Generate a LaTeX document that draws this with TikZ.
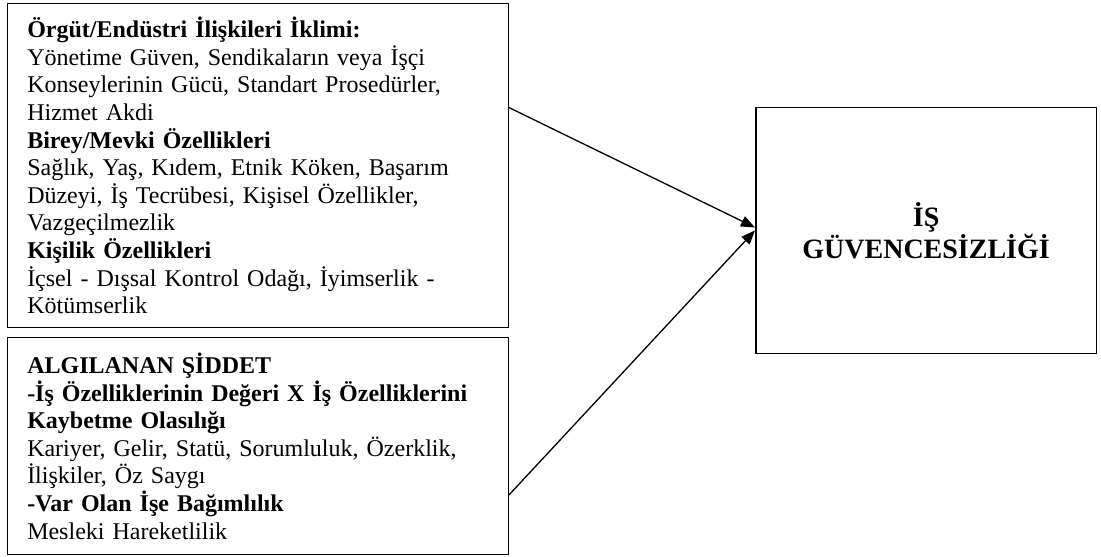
\documentclass[tikz,border=0pt]{standalone}
\usepackage{fontspec}
\setmainfont{Liberation Serif}
\usepackage{tikz}
\usetikzlibrary{arrows.meta,positioning}

\begin{document}
\begin{tikzpicture}[
    x=1pt, y=1pt,
    box/.style={draw, line width=1.5pt, inner xsep=20pt, inner ysep=0pt, align=left, anchor=north west,
        font=\fontsize{24pt}{27.6pt}\selectfont},
    arrow/.style={-{Triangle[length=14pt,width=11pt]}, line width=1.3pt}
]
\useasboundingbox (0,0) rectangle (1101,557);
\node[box, minimum width=501pt, minimum height=323.7pt, text width=461pt] (iklim) at (6.5,554)
  {\textbf{Örgüt/Endüstri İlişkileri İklimi:}\\
   Yönetime Güven, Sendikaların veya İşçi\\
   Konseylerinin Gücü, Standart Prosedürler,\\
   Hizmet Akdi\\
   \textbf{Birey/Mevki Özellikleri}\\
   Sağlık, Yaş, Kıdem, Etnik Köken, Başarım\\
   Düzeyi, İş Tecrübesi, Kişisel Özellikler,\\
   Vazgeçilmezlik\\
   \textbf{Kişilik Özellikleri}\\
   İçsel - Dışsal Kontrol Odağı, İyimserlik -\\
   Kötümserlik};
\node[box, minimum width=501pt, minimum height=217.3pt, text width=461pt] (siddet) at (6.5,220.3)
  {\textbf{ALGILANAN ŞİDDET}\\
   \textbf{-İş Özelliklerinin Değeri X İş Özelliklerini}\\
   \textbf{Kaybetme Olasılığı}\\
   Kariyer, Gelir, Statü, Sorumluluk, Özerklik,\\
   İlişkiler, Öz Saygı\\
   \textbf{-Var Olan İşe Bağımlılık}\\
   Mesleki Hareketlilik};
\node[box, align=center, inner xsep=0pt, minimum width=340.7pt, minimum height=246pt,
  font=\fontsize{28pt}{32pt}\selectfont\bfseries] (guvence) at (755,450.3)
  {İŞ\\GÜVENCESİZLİĞİ};

\draw[arrow] (iklim.13) -- (guvence.179);
\draw[arrow] (siddet.-11) -- (guvence.west);
\end{tikzpicture}
\end{document}
